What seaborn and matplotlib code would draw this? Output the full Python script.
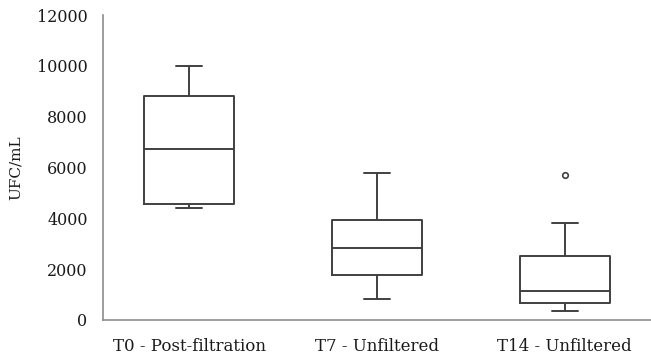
import numpy as np
import pandas as pd
import seaborn as sns
from matplotlib import pyplot as plt

# values (UFC/mL per sampling time)
t0_post = [4400, 4560, 6740, 8800, 10000]
t7_unf = [810, 1770, 2840, 3930, 5770]
t14_unf = [350, 500, 660, 900, 1150, 1800, 2520, 3800, 5700]
groups = ["T0 - Post-filtration", "T7 - Unfiltered", "T14 - Unfiltered"]

df = pd.DataFrame({
    "group": [groups[0]] * len(t0_post) + [groups[1]] * len(t7_unf) + [groups[2]] * len(t14_unf),
    "ufc": t0_post + t7_unf + t14_unf,
})

sns.set_style("white")
plt.rcParams["font.family"] = ["DejaVu Serif"]

fig = plt.figure(figsize=(6.51, 3.61), dpi=100)
ax = fig.add_axes([0.158, 0.114, 0.842, 0.844])

line = "#404040"
sns.boxplot(data=df, x="group", y="ufc", order=groups, ax=ax,
            width=0.48, fill=False, color=line, linecolor=line, linewidth=1.4,
            whis=1.5, capwidths=0.14,
            flierprops=dict(marker="o", markersize=4, markeredgewidth=1.2,
                            markeredgecolor=line, markerfacecolor="white"),
            medianprops=dict(color=line, linewidth=1.4))

ax.set_ylim(0, 12000)
ax.set_yticks(range(0, 12001, 2000))
ax.set_xlim(-0.46, 2.46)
ax.set_xlabel("")
ax.set_ylabel("UFC/mL", fontsize=11, color="#1a1a1a", labelpad=10)
ax.tick_params(axis="both", length=0, colors="#1a1a1a")
ax.tick_params(axis="y", labelsize=11.5, pad=11)
ax.tick_params(axis="x", labelsize=12, pad=13)
for s in ["top", "right"]:
    ax.spines[s].set_visible(False)
for s in ["left", "bottom"]:
    ax.spines[s].set_color("#8c8c8c")
    ax.spines[s].set_linewidth(1.2)

plt.savefig("out.png", dpi=100)
